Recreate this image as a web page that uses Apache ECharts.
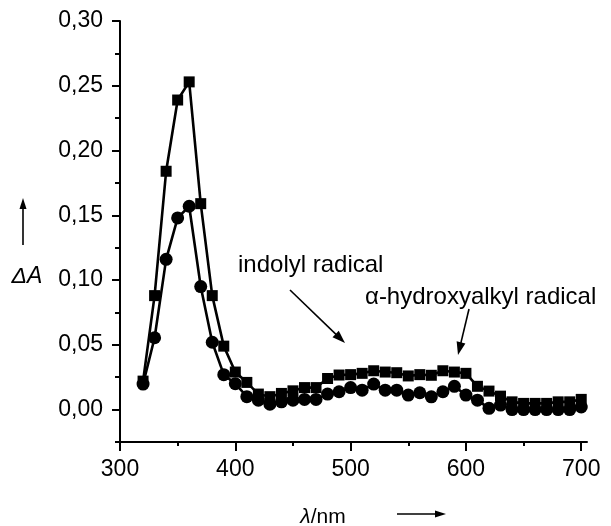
<!DOCTYPE html>
<html><head><meta charset="utf-8">
<script src="https://cdn.jsdelivr.net/npm/echarts@6/dist/echarts.min.js"></script>
<style>html,body{margin:0;padding:0;background:#fff}#c{width:611px;height:526px}</style>
</head><body><div id="c"></div>
<script>
// ---- data ----
const wavelengths = [320,330,340,350,360,370,380,390,400,410,420,430,440,450,460,470,480,490,500,510,520,530,540,550,560,570,580,590,600,610,620,630,640,650,660,670,680,690,700];
const squareValues = [0.022,0.088,0.184,0.239,0.253,0.159,0.088,0.049,0.029,0.021,0.012,0.010,0.0125,0.0145,0.017,0.017,0.024,0.0267,0.027,0.028,0.030,0.029,0.0285,0.026,0.027,0.0265,0.030,0.029,0.028,0.018,0.0143,0.0104,0.006,0.0048,0.0048,0.0048,0.006,0.006,0.0079];
const circleValues = [0.0197,0.0555,0.116,0.148,0.157,0.095,0.052,0.027,0.020,0.010,0.0073,0.0042,0.006,0.0073,0.0079,0.0079,0.012,0.0138,0.017,0.015,0.0197,0.015,0.015,0.0112,0.013,0.0099,0.0138,0.018,0.0112,0.0073,0.001,0.0035,0.0,0.0,0.0,0.0,0.0,0.0,0.002];
const xTicks = [300,400,500,600,700];
const xTickLabels = ['300','400','500','600','700'];
const xMinorTicks = [350,450,550,650];
const yTicks = [0,0.05,0.10,0.15,0.20,0.25,0.30];
const yTickLabels = ['0,00','0,05','0,10','0,15','0,20','0,25','0,30'];
const yMinorTicks = [-0.025,0.025,0.075,0.125,0.175,0.225,0.275];
const annotationTexts = ['indolyl radical','α-hydroxyalkyl radical'];

const FONT = '"Liberation Sans", Arial, sans-serif';
const chart = echarts.init(document.getElementById('c'), null, {renderer:'canvas'});

function pairs(xs, ys){ return xs.map((x,i)=>[x, ys[i]]); }
function labelFor(ticks, labels){
  return function(v){
    for (let i=0;i<ticks.length;i++){ if (Math.abs(ticks[i]-v)<1e-9) return labels[i]; }
    return '';
  };
}
function arrow(x1,y1,x2,y2,len,half){
  const dx=x2-x1, dy=y2-y1, L=Math.hypot(dx,dy), ux=dx/L, uy=dy/L;
  const bx=x2-ux*len, by=y2-uy*len, px=-uy*half, py=ux*half;
  return [
    {type:'line', shape:{x1:x1,y1:y1,x2:x2-ux*len*0.6,y2:y2-uy*len*0.6}, style:{stroke:'#000',lineWidth:1.6}},
    {type:'polygon', shape:{points:[[x2,y2],[bx+px,by+py],[bx-px,by-py]]}, style:{fill:'#000'}}
  ];
}

const xMin = 300, xMax = 705, yMin = -0.025, yMax = 0.30;
const axisLineStyle = {color:'#000', width:2};

const option = {
  animation:false,
  backgroundColor:'#fff',
  grid:{left:120, right:24, top:21, bottom:84, containLabel:false},
  xAxis:[
    {type:'value', min:xMin, max:xMax, position:'bottom',
     axisLine:{show:true, onZero:false, lineStyle:axisLineStyle},
     axisTick:{show:true, customValues:xTicks, length:9, inside:false, lineStyle:{color:'#000',width:2}},
     axisLabel:{show:true, customValues:xTicks, formatter:labelFor(xTicks,xTickLabels), margin:16, color:'#000', fontSize:23, fontFamily:FONT},
     splitLine:{show:false}},
    {type:'value', min:xMin, max:xMax, position:'bottom', gridIndex:0,
     axisLine:{show:false, onZero:false},
     axisTick:{show:true, customValues:xMinorTicks, length:4, lineStyle:{color:'#000',width:2}},
     axisLabel:{show:false}, splitLine:{show:false}}
  ],
  yAxis:[
    {type:'value', min:yMin, max:yMax, position:'left',
     axisLine:{show:true, onZero:false, lineStyle:axisLineStyle},
     axisTick:{show:true, customValues:yTicks, length:8, lineStyle:{color:'#000',width:2}},
     axisLabel:{show:true, customValues:yTicks, formatter:labelFor(yTicks,yTickLabels), margin:17, color:'#000', fontSize:23, fontFamily:FONT},
     splitLine:{show:false}},
    {type:'value', min:yMin, max:yMax, position:'left', gridIndex:0,
     axisLine:{show:false, onZero:false},
     axisTick:{show:true, customValues:yMinorTicks, length:5, lineStyle:{color:'#000',width:2}},
     axisLabel:{show:false}, splitLine:{show:false}}
  ],
  series:[
    {type:'line', name:'squares', xAxisIndex:0, yAxisIndex:0, data:pairs(wavelengths,squareValues),
     symbol:'rect', symbolSize:11, showAllSymbol:true,
     lineStyle:{color:'#000', width:2.6}, itemStyle:{color:'#000', borderWidth:0}, z:2},
    {type:'line', name:'circles', xAxisIndex:0, yAxisIndex:0, data:pairs(wavelengths,circleValues),
     symbol:'circle', symbolSize:13, showAllSymbol:true,
     lineStyle:{color:'#000', width:2.6}, itemStyle:{color:'#000', borderWidth:0}, z:3}
  ],
  graphic:[]
};

const g = [];
// y axis name with arrow
g.push({type:'text', style:{text:'ΔA', x:27, y:277, align:'center', verticalAlign:'middle', font:'italic 23px '+FONT, fill:'#000'}});
g.push(...arrow(23,245,23,198,11,3.5));
// x axis name with arrow
g.push({type:'text', style:{text:'{i|λ}{n|/nm}', x:323, y:517, align:'center', verticalAlign:'middle', fill:'#000',
  rich:{i:{font:'italic 21px '+FONT, fill:'#000'}, n:{font:'21px '+FONT, fill:'#000'}}}});
g.push(...arrow(397,514,446,514,11,3.5));
// annotations
g.push({type:'text', style:{text:annotationTexts[0], x:238, y:265, align:'left', verticalAlign:'middle', font:'24px '+FONT, fill:'#000'}});
g.push(...arrow(290,290,345,343,13,4.5));
g.push({type:'text', style:{text:annotationTexts[1], x:365, y:297, align:'left', verticalAlign:'middle', font:'24px '+FONT, fill:'#000'}});
g.push(...arrow(469,309,458,355,13,4.5));
option.graphic = g;

chart.setOption(option);
</script>
</body></html>
